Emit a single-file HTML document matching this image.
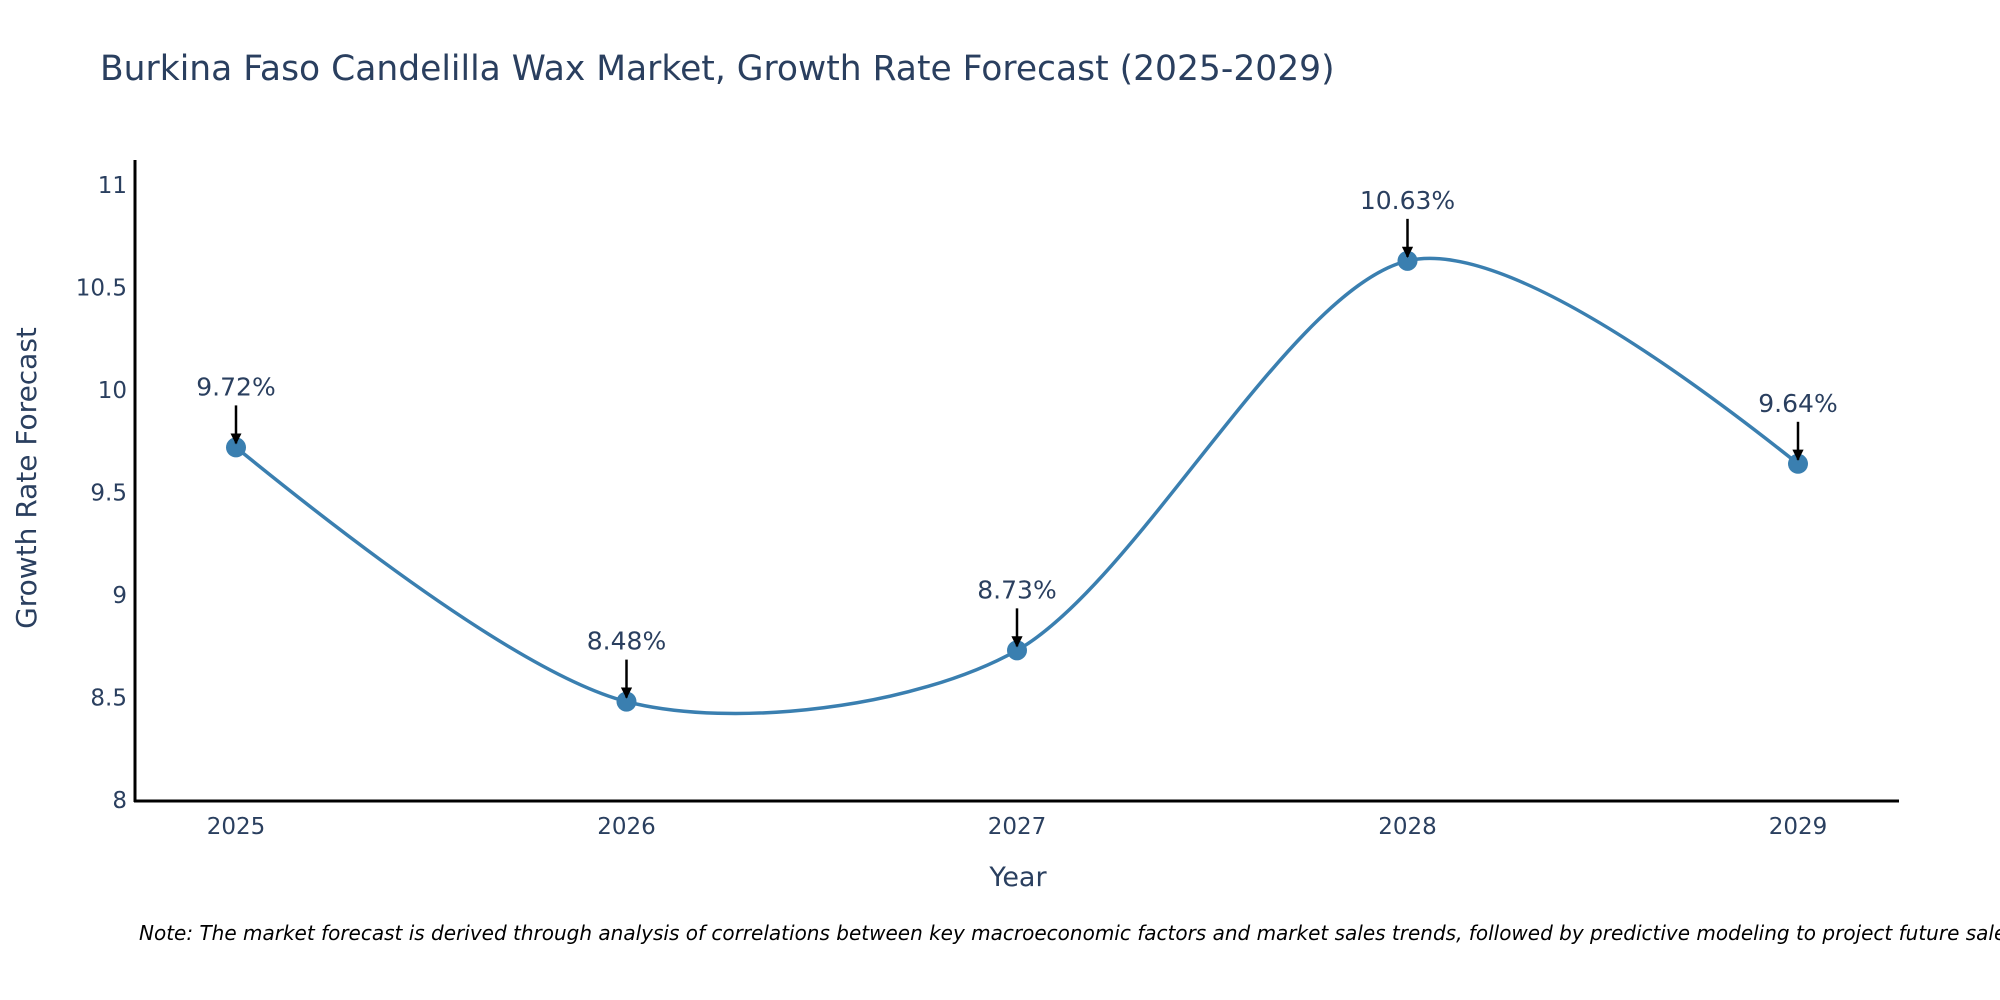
<!DOCTYPE html>
<html><head><meta charset="utf-8"><style>
body{margin:0;background:#fff}
svg{display:block}
text{font-family:"DejaVu Sans","Liberation Sans",sans-serif}
</style></head><body>
<svg id="chart" width="2000" height="1000" viewBox="0 0 2000 1000">
<defs><marker id="ah" viewBox="0 0 10 10" refX="9" refY="5" markerWidth="4.5" markerHeight="4.5" orient="auto"><path d="M0,0L10,5L0,10z" fill="#000"/></marker></defs>
<text x="100" y="80" font-size="34.5" fill="#2a3f5f">Burkina Faso Candelilla Wax Market, Growth Rate Forecast (2025-2029)</text>
<g id="yticks"></g><g id="xticks"></g>
<path id="line" fill="none" stroke="#3a7fb0" stroke-width="3.5"/>
<g id="marks"></g>
<line x1="135" y1="160" x2="135" y2="802" stroke="#000" stroke-width="3"/>
<line x1="134" y1="801" x2="1899" y2="801" stroke="#000" stroke-width="3"/>
<text x="1018" y="886" font-size="27" fill="#2a3f5f" text-anchor="middle">Year</text>
<text transform="translate(36,478) rotate(-90)" font-size="28" fill="#2a3f5f" text-anchor="middle">Growth Rate Forecast</text>
<text x="139" y="940" font-size="20" font-style="italic" fill="#000">Note: The market forecast is derived through analysis of correlations between key macroeconomic factors and market sales trends, followed by predictive modeling to project future sales.</text>
</svg>
<script>
const years=[2025,2026,2027,2028,2029];
const values=[9.72,8.48,8.73,10.63,9.64];
const labels=["9.72%","8.48%","8.73%","10.63%","9.64%"];
const yTicks=[8,8.5,9,9.5,10,10.5,11];
const NS="http://www.w3.org/2000/svg";
const X=v=>236+(v-2025)*390.5;
const Y=v=>800-(v-8)*205;
function mk(t,a,p){const e=document.createElementNS(NS,t);for(const k in a)e.setAttribute(k,a[k]);p.appendChild(e);return e;}
const yt=document.getElementById('yticks');
yTicks.forEach(v=>{const t=mk('text',{x:127,y:Y(v)+8,'font-size':23,fill:'#2a3f5f','text-anchor':'end'},yt);t.textContent=String(v);

});
const xt=document.getElementById('xticks');
years.forEach(v=>{const t=mk('text',{x:X(v),y:834,'font-size':23,fill:'#2a3f5f','text-anchor':'middle'},xt);t.textContent=String(v);

});
const P=years.map((y,i)=>[X(y),Y(values[i])]);
const s=0.85;const cp=[];
for(let i=1;i<P.length-1;i++){const p0=P[i-1],p1=P[i],p2=P[i+1];
const d1=Math.pow(Math.hypot(p1[0]-p0[0],p1[1]-p0[1]),0.5),d2=Math.pow(Math.hypot(p2[0]-p1[0],p2[1]-p1[1]),0.5);
const dx=p2[0]-p0[0],dy=p2[1]-p0[1],f1=s*d1/(3*(d1+d2)),f2=s*d2/(3*(d1+d2));
cp[i]=[[p1[0]-dx*f1,p1[1]-dy*f1],[p1[0]+dx*f2,p1[1]+dy*f2]];}
let d=`M${P[0]}Q${cp[1][0]} ${P[1]}`;
for(let i=1;i<P.length-2;i++)d+=`C${cp[i][1]} ${cp[i+1][0]} ${P[i+1]}`;
const n=P.length;d+=`Q${cp[n-2][1]} ${P[n-1]}`;
document.getElementById('line').setAttribute('d',d);
const g=document.getElementById('marks');
P.forEach((p,i)=>{const c=mk('circle',{cx:p[0],cy:p[1],r:10,fill:'#3a7fb0'},g);


const a=mk('line',{x1:p[0],y1:p[1]-42,x2:p[0],y2:p[1]-4,stroke:'#000','stroke-width':2.5,'marker-end':'url(#ah)'},g);


const t=mk('text',{x:p[0],y:p[1]-52,'font-size':25,fill:'#2a3f5f','text-anchor':'middle'},g);t.textContent=labels[i];

});
</script>
</body></html>
